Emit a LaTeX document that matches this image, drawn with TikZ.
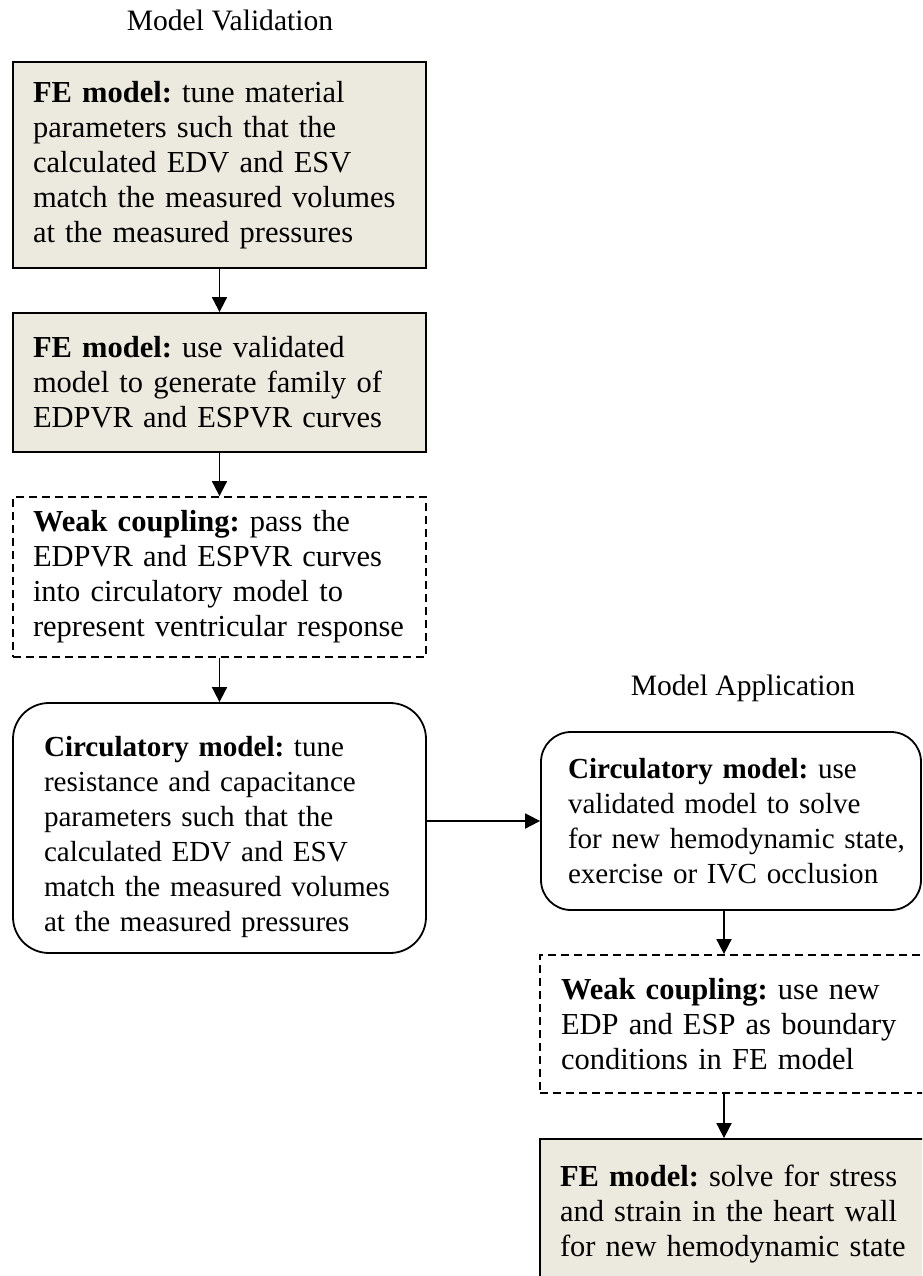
\documentclass[tikz,border=0pt]{standalone}
\usepackage{fontspec}
\setmainfont{Liberation Serif}
\usetikzlibrary{arrows.meta,calc}
\definecolor{boxfill}{RGB}{236,233,223}
\newcommand{\Ln}[1]{\mbox{#1}}
\begin{document}
\begin{tikzpicture}[x=1pt,y=-1pt,
  base/.style={draw, line width=1.8pt, align=left, inner ysep=0pt, font=\fontsize{30.5}{35}\selectfont\frenchspacing, anchor=center},
  febox/.style={base, fill=boxfill, rectangle},
  weakbox/.style={base, dash pattern=on 8pt off 5pt},
  circbox/.style={base, rounded corners=36pt, font=\fontsize{29.1}{35}\selectfont\frenchspacing},
  arr/.style={line width=1.8pt, -{Triangle[length=15pt,width=15pt]}},
  title/.style={font=\fontsize{29.6}{35}\selectfont, inner sep=0pt, anchor=base}
]
\useasboundingbox (0,0) rectangle (922,1276);
\clip (0,0) rectangle (922,1276);

\node[title] (t1) at (230,31) {Model Validation};
\node[title] (t2) at (743,695) {Model Application};

\node[febox, text width=373pt, inner xsep=20pt, minimum height=206pt] (fe1) at (219.5,165)
  {\Ln{\textbf{FE model:} tune material}\\\Ln{parameters such that the}\\\Ln{calculated EDV and ESV}\\\Ln{match the measured volumes}\\\Ln{at the measured pressures}};
\node[febox, text width=373pt, inner xsep=20pt, minimum height=139pt] (fe2) at (219.5,382.5)
  {\Ln{\textbf{FE model:} use validated}\\\Ln{model to generate family of}\\\Ln{EDPVR and ESPVR curves}};
\node[weakbox, text width=373pt, inner xsep=20pt, minimum height=160pt] (wc1) at (219.5,577)
  {\Ln{\textbf{Weak coupling:} pass the}\\\Ln{EDPVR and ESPVR curves}\\\Ln{into circulatory model to}\\\Ln{represent ventricular response}};
\node[circbox, text width=351pt, inner xsep=31pt, minimum height=250pt] (circ1) at (219.5,828)
  {\Ln{\rule{0pt}{38pt}\textbf{Circulatory model:} tune}\\\Ln{resistance and capacitance}\\\Ln{parameters such that the}\\\Ln{calculated EDV and ESV}\\\Ln{match the measured volumes}\\\Ln{at the measured pressures}};

\node[circbox, rounded corners=30pt, text width=326pt, inner xsep=27pt, minimum height=178pt] (circ2) at (731,821)
  {\Ln{\textbf{Circulatory model:} use}\\\Ln{validated model to solve}\\\Ln{for new hemodynamic state,}\\\Ln{exercise or IVC occlusion}};
\node[weakbox, text width=378pt, inner xsep=21pt, minimum height=138pt] (wc2) at (750,1024)
  {\Ln{\textbf{Weak coupling:} use new}\\\Ln{EDP and ESP as boundary}\\\Ln{conditions in FE model}};
\node[febox, text width=378pt, inner xsep=20pt, minimum height=150pt] (fe3) at (749,1214)
  {\Ln{\textbf{FE model:} solve for stress}\\\Ln{and strain in the heart wall}\\\Ln{for new hemodynamic state}};

\coordinate (ax) at (724,0);
\draw[arr] (fe1) -- (fe2);
\draw[arr] (fe2) -- (wc1);
\draw[arr] (wc1) -- (circ1);
\draw[arr] (circ1.east |- circ2.west) -- (circ2.west);
\draw[arr] (circ2.south -| ax) -- (wc2.north -| ax);
\draw[arr] (wc2.south -| ax) -- (fe3.north -| ax);
\end{tikzpicture}
\end{document}
